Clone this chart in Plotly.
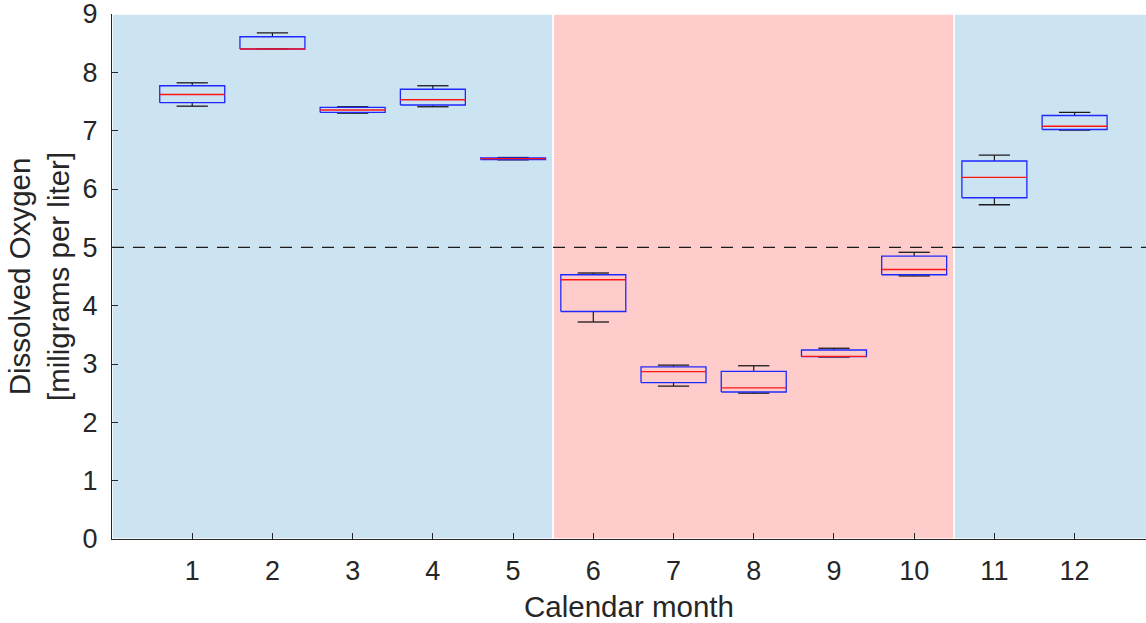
import plotly.graph_objects as go

# Monthly dissolved-oxygen summary statistics (mg/L)
months = [1, 2, 3, 4, 5, 6, 7, 8, 9, 10, 11, 12]
do_max = [7.82, 8.675, 7.41, 7.77, 6.54, 4.56, 2.98, 2.97, 3.27, 4.915, 6.58, 7.315]
do_q3 = [7.77, 8.61, 7.40, 7.71, 6.535, 4.53, 2.95, 2.875, 3.24, 4.85, 6.48, 7.26]
do_median = [7.62, 8.40, 7.355, 7.53, 6.52, 4.445, 2.87, 2.59, 3.13, 4.62, 6.20, 7.075]
do_q1 = [7.48, 8.40, 7.315, 7.44, 6.505, 3.90, 2.68, 2.52, 3.125, 4.53, 5.85, 7.02]
do_min = [7.42, 8.40, 7.30, 7.41, 6.50, 3.72, 2.62, 2.50, 3.12, 4.51, 5.73, 7.01]

threshold = 5.0
# season bands: (start, end, colour)
seasons = [(0, 5.5, "rgb(204,227,242)"), (5.5, 10.5, "rgb(255,204,204)"), (10.5, 13, "rgb(204,227,242)")]

y_ticks = [0, 1, 2, 3, 4, 5, 6, 7, 8, 9]

BOX_HALF = 0.405
CAP_HALF = 0.195
TEXT = "#262626"

wx, wy, cx, cy, bx, by, mx, my = [], [], [], [], [], [], [], []
for m, lo, a, md, b, hi in zip(months, do_min, do_q1, do_median, do_q3, do_max):
    # whiskers
    wx += [m, m, None, m, m, None]
    wy += [b, hi, None, lo, a, None]
    # caps
    cx += [m - CAP_HALF, m + CAP_HALF, None, m - CAP_HALF, m + CAP_HALF, None]
    cy += [hi, hi, None, lo, lo, None]
    # box outline
    bx += [m - BOX_HALF, m + BOX_HALF, m + BOX_HALF, m - BOX_HALF, m - BOX_HALF, None]
    by += [a, a, b, b, a, None]
    # median
    mx += [m - BOX_HALF, m + BOX_HALF, None]
    my += [md, md, None]

fig = go.Figure()
fig.add_trace(go.Scatter(x=wx, y=wy, mode="lines", line=dict(color="#1a1a1a", width=1.2),
                         hoverinfo="skip", showlegend=False))
fig.add_trace(go.Scatter(x=cx, y=cy, mode="lines", line=dict(color="#1a1a1a", width=1.3),
                         hoverinfo="skip", showlegend=False))
fig.add_trace(go.Scatter(x=bx, y=by, mode="lines", line=dict(color="rgb(30,40,255)", width=1.3),
                         hoverinfo="skip", showlegend=False))
fig.add_trace(go.Scatter(x=mx, y=my, mode="lines", line=dict(color="rgb(255,20,20)", width=1.4),
                         hoverinfo="skip", showlegend=False))

for x0, x1, col in seasons:
    fig.add_shape(type="rect", xref="x", yref="y", x0=x0, x1=x1, y0=0, y1=9,
                  fillcolor=col, line=dict(color="white", width=1.5), layer="below")

fig.add_shape(type="line", xref="paper", yref="y", x0=0, x1=1, y0=threshold, y1=threshold,
              line=dict(color="#1a1a1a", width=1.4, dash="12px,9px"), layer="above")

fig.update_layout(
    width=1146, height=623,
    margin=dict(l=112, r=0, t=14, b=84),
    paper_bgcolor="white", plot_bgcolor="white",
    font=dict(family="Liberation Sans, Arial, sans-serif", color=TEXT),
    xaxis=dict(
        range=[0, 12.89], tickmode="array", tickvals=months, ticktext=[str(m) for m in months],
        ticks="inside", ticklen=6, tickcolor=TEXT, tickwidth=1,
        showline=True, linecolor=TEXT, linewidth=1, mirror=False,
        showgrid=False, zeroline=False,
        tickfont=dict(size=27, color=TEXT), ticklabelstandoff=8,
        title=dict(text="Calendar month", font=dict(size=29.5, color=TEXT), standoff=10),
    ),
    yaxis=dict(
        range=[0, 9], tickmode="array", tickvals=y_ticks, ticktext=[str(v) for v in y_ticks],
        ticks="inside", ticklen=6, tickcolor=TEXT, tickwidth=1,
        showline=True, linecolor=TEXT, linewidth=1, mirror=False,
        showgrid=False, zeroline=False, ticklabeloverflow="allow",
        tickfont=dict(size=27, color=TEXT), ticklabelstandoff=8,
        title=dict(text="Dissolved Oxygen<br>[miligrams per liter]",
                   font=dict(size=29.5, color=TEXT), standoff=4),
    ),
)

fig.write_html("out.html")
